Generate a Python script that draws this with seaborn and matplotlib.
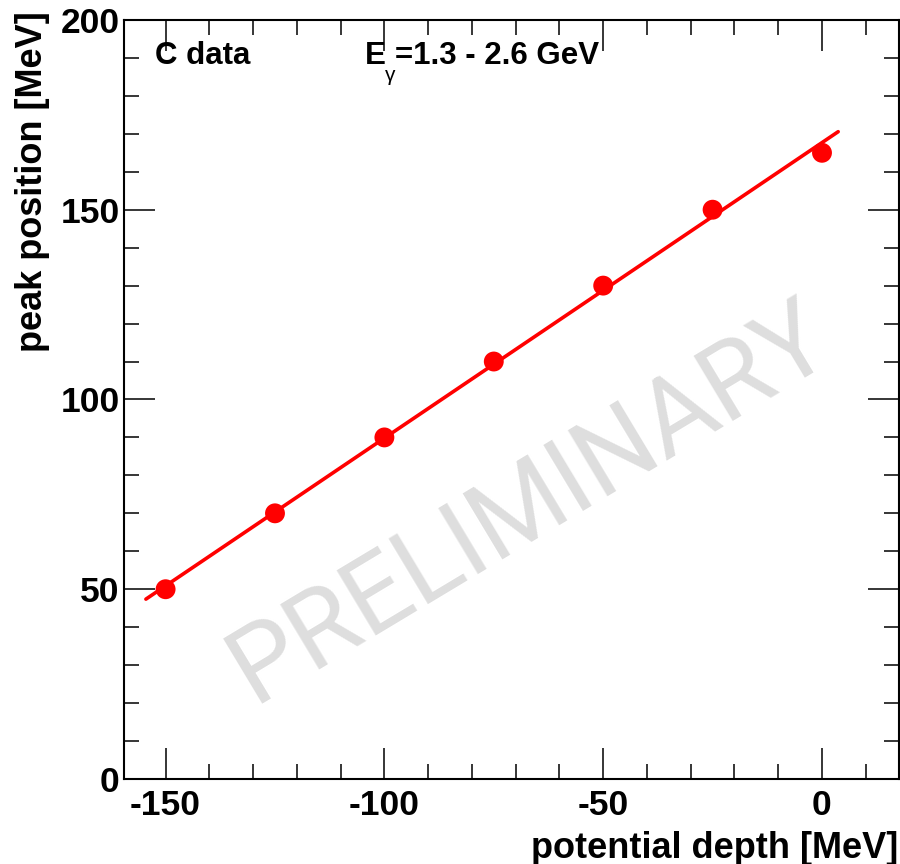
import numpy as np
import pandas as pd
import matplotlib
matplotlib.use("Agg")
import matplotlib.pyplot as plt
import seaborn as sns
from matplotlib.ticker import MultipleLocator

# data
depth = [-150, -125, -100, -75, -50, -25, 0]
peak = [50, 70, 90, 110, 130, 150, 165]
fit_range = [-154.5, 3.7]

sns.set_style("ticks")
plt.rcParams['font.family'] = ['Liberation Sans', 'DejaVu Sans']
plt.rcParams['axes.unicode_minus'] = False
plt.rcParams['text.color'] = 'black'
plt.rcParams['axes.labelcolor'] = 'black'
plt.rcParams['xtick.color'] = 'black'
plt.rcParams['ytick.color'] = 'black'
plt.rcParams['axes.edgecolor'] = 'black'

fig = plt.figure(figsize=(9, 8.64), dpi=100)
ax = fig.add_axes([0.1378, 0.0984, 0.8611, 0.8785])

df = pd.DataFrame({"depth": depth, "peak": peak})
slope, intercept = np.polyfit(depth, peak, 1)
fx = np.array(fit_range)
fit_df = pd.DataFrame({"x": fx, "y": slope * fx + intercept})

sns.lineplot(data=fit_df, x="x", y="y", ax=ax, color="#ff0000", lw=2.6, zorder=3)
sns.scatterplot(data=df, x="depth", y="peak", ax=ax, color="#ff0000", s=205,
                edgecolor="none", zorder=4)

ax.set_xlim(-159.5, 17.6)
ax.set_ylim(0, 200)
ax.xaxis.set_major_locator(MultipleLocator(50))
ax.xaxis.set_minor_locator(MultipleLocator(10))
ax.yaxis.set_major_locator(MultipleLocator(50))
ax.yaxis.set_minor_locator(MultipleLocator(10))
ax.tick_params(which="both", direction="in", top=True, right=True, width=1.1,
               labelsize=25.5)
ax.tick_params(axis="x", pad=7)
ax.tick_params(axis="y", pad=3)
ax.tick_params(which="major", length=22)
ax.tick_params(which="minor", length=11)
for lab in ax.get_xticklabels() + ax.get_yticklabels():
    lab.set_fontweight("bold")
for s in ax.spines.values():
    s.set_linewidth(1.5)

ax.set_xlabel("potential depth [MeV]", fontsize=26, fontweight="bold", loc="right")
ax.set_ylabel("peak position [MeV]", fontsize=26, fontweight="bold", loc="top")
ax.xaxis.set_label_coords(0.9987, -0.068)
ax.yaxis.set_label_coords(-0.0955, 1.012)

ty = 0.952
ax.text(0.04, ty, "C data", transform=ax.transAxes, fontsize=22.5,
        fontweight="bold", va="center", ha="left")
ax.text(0.311, ty, "E", transform=ax.transAxes,
        fontsize=22.5, fontweight="bold", va="center", ha="left")
ax.text(0.337, 0.939, "γ", transform=ax.transAxes,
        fontsize=15, va="top", ha="left")
ax.text(0.350, ty, "=1.3 - 2.6 GeV", transform=ax.transAxes,
        fontsize=22.5, fontweight="bold", va="center", ha="left")

ax.text(0.543, 0.330, "PRELIMINARY", transform=ax.transAxes, fontsize=77,
        family="Roboto", color="#dedede", rotation=31.0, rotation_mode="anchor",
        ha="center", va="baseline", zorder=1)

fig.savefig("out.png", dpi=100)
